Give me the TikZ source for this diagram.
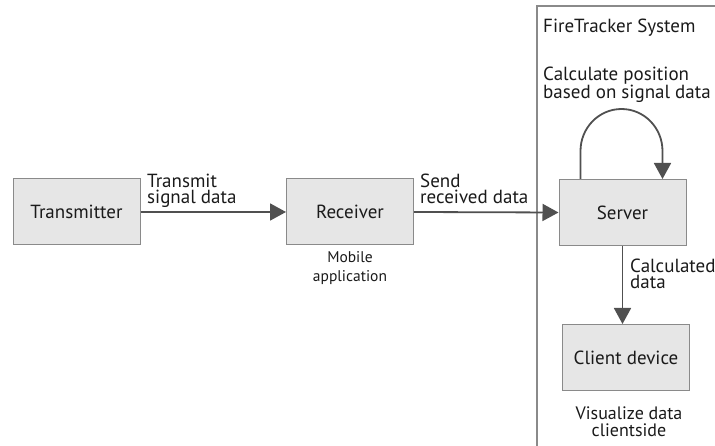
\documentclass[tikz,border=0pt]{standalone}
\usepackage{fontspec}
\setmainfont{PT Sans}
\usetikzlibrary{arrows.meta}
\definecolor{boxfill}{HTML}{E6E6E6}
\definecolor{boxline}{HTML}{8A8A8A}
\definecolor{wire}{HTML}{505050}
\definecolor{ink}{HTML}{1A1A1A}
\begin{document}
\begin{tikzpicture}[x=1pt,y=-1pt,
  blk/.style={draw=boxline,fill=boxfill,line width=1pt,minimum width=127pt,minimum height=66pt,inner sep=0pt,font=\fontsize{19}{20}\selectfont,text=ink},
  lbl/.style={inner sep=0pt,align=left,font=\fontsize{19}{16.5}\selectfont,text=ink},
  note/.style={inner sep=0pt,align=center,font=\fontsize{15.5}{19}\selectfont,text=ink},
  flow/.style={draw=wire,line width=1.8pt,-{Triangle[length=16pt,width=17pt]}}]
\useasboundingbox (0,0) rectangle (715,446);
% system frame
\draw[boxline,line width=1.2pt] (537,446) -- (537,6) -- (716,6);
\node[lbl,anchor=base west] (sys) at (543,33) {FireTracker System};
% blocks
\node[blk] (tx) at (76.5,212) {Transmitter};
\node[blk] (rx) at (350,212) {Receiver};
\node[blk] (srv) at (622.5,212.5) {Server};
\node[blk] (cli) at (626,357.5) {Client device};
% flows
\draw[flow] (tx.east) -- (rx.west);
\draw[flow] (rx.east) -- (srv.west);
\draw[flow] (srv.south) -- (cli.north -| srv.south);
\coordinate (lpA) at ([xshift=22pt]srv.north west);
\coordinate (lpB) at ([xshift=104pt]srv.north west);
\draw[flow] (lpA) -- ++(0,-28) arc[start angle=180,end angle=360,x radius=41,y radius=42] -- (lpB);
% labels (anchored on the baseline of their last line)
\node[lbl,anchor=base west] (l1) at (147,204) {Transmit\\signal data};
\node[lbl,anchor=base west] (l2) at (420,204) {Send\\received data};
\node[lbl,anchor=base west] (l3) at (543,99) {Calculate position\\based on signal data};
\node[lbl,anchor=base west] (l4) at (630,289) {Calculated\\data};
\node[note,anchor=base] (n1) at (350,282) {Mobile\\application};
\node[note,anchor=base,font=\fontsize{18}{17}\selectfont] (n2) at (629,436) {Visualize data\\clientside};
\end{tikzpicture}
\end{document}
